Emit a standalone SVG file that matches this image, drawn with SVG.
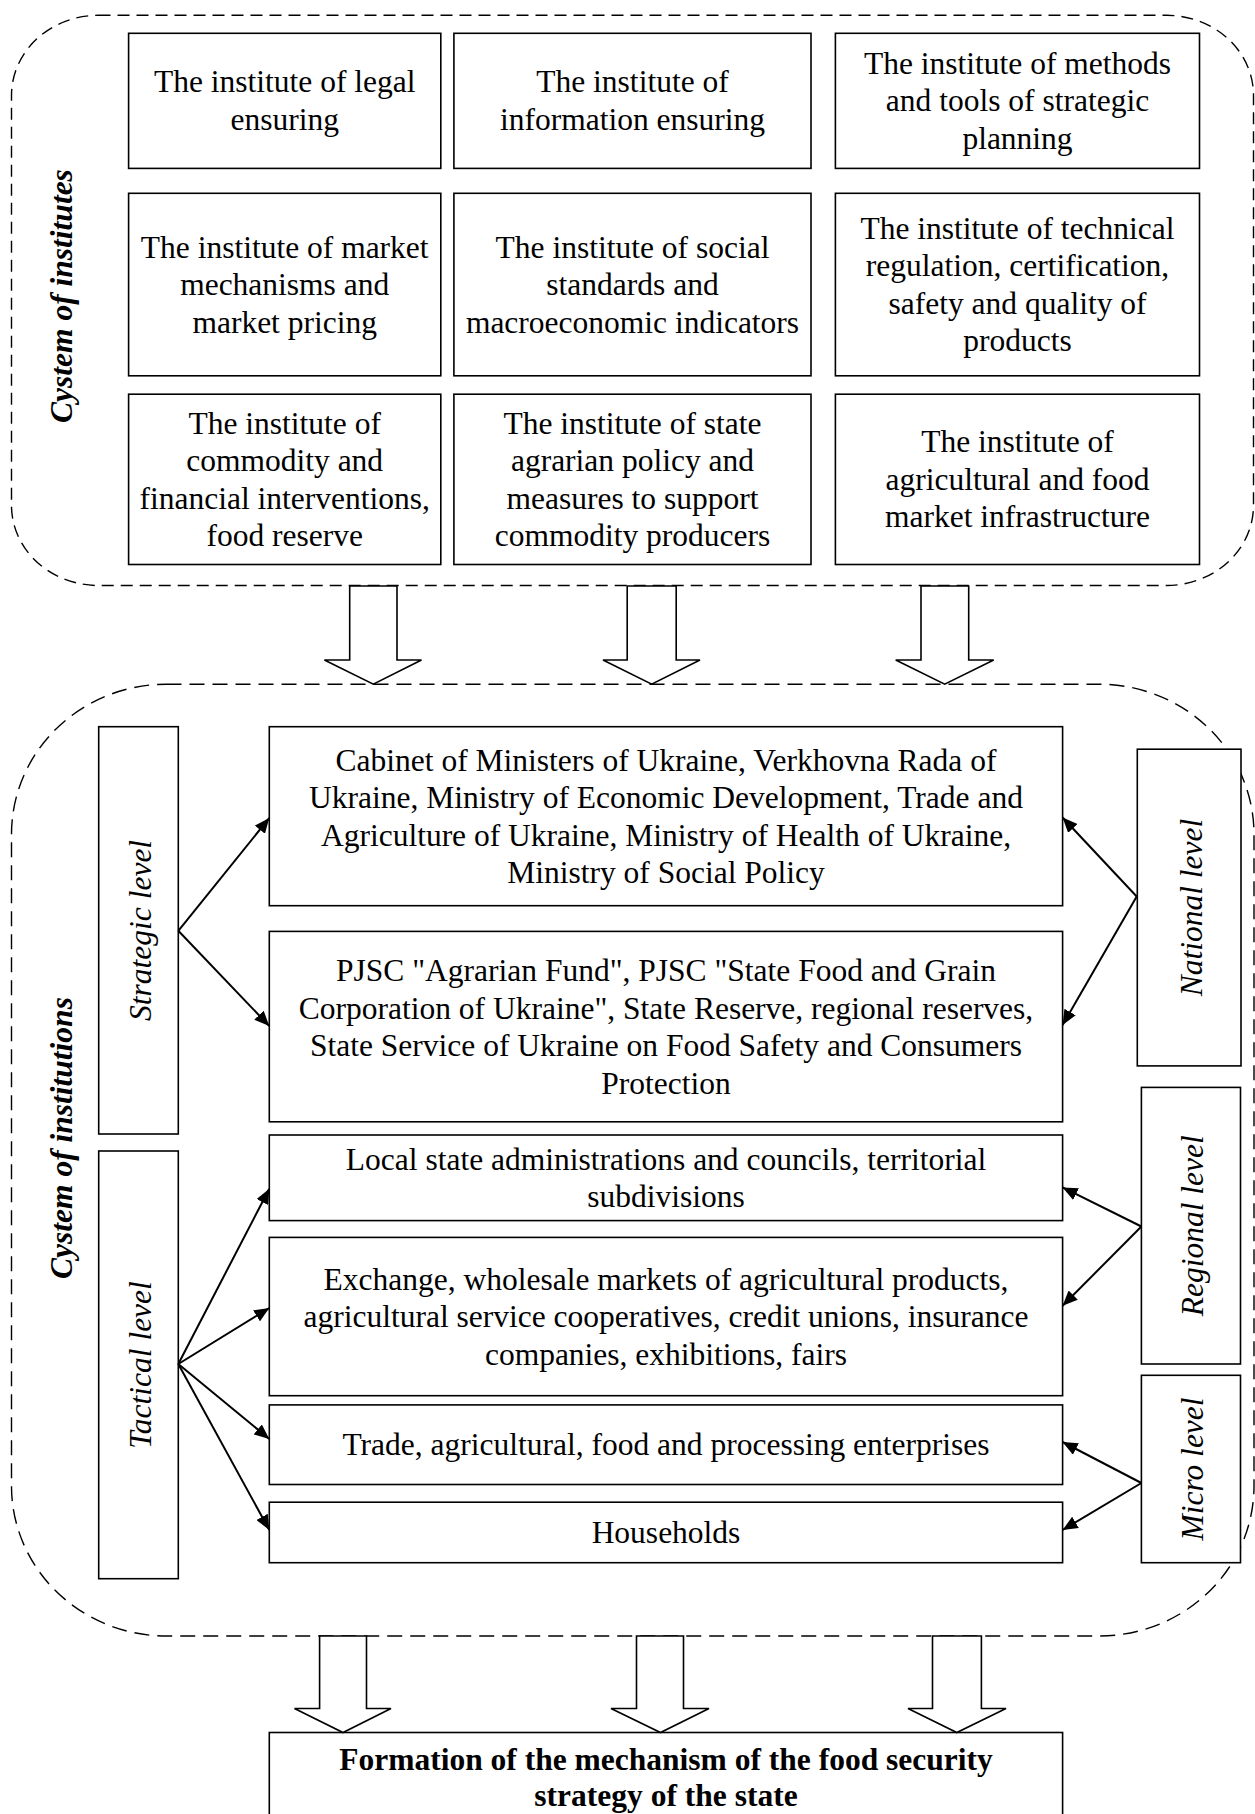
<svg xmlns="http://www.w3.org/2000/svg" width="1255" height="1814" viewBox="0 0 1255 1814">
  <style>
    .box { fill: #fff; stroke: #000; stroke-width: 1.6; }
    .zone { fill: none; stroke: #000; stroke-width: 1.4; stroke-dasharray: 12 7; }
    .zone2 { fill: none; stroke: #000; stroke-width: 1.4; stroke-dasharray: 15 8; }
    .big { fill: #fff; stroke: #000; stroke-width: 1.6; stroke-linejoin: miter; }
    .link { fill: none; stroke: #000; stroke-width: 2; marker-end: url(#head); }
    text { font-family: "Liberation Serif", "Times New Roman", serif; font-size: 31.5px; fill: #000; }
    .c { text-anchor: middle; }
    .lvl { font-style: italic; text-anchor: middle; }
    .sys { font-style: italic; font-weight: bold; text-anchor: middle; }
    .bold { font-weight: bold; text-anchor: middle; }
  </style>
  <defs>
    <marker id="head" markerUnits="userSpaceOnUse" markerWidth="16" markerHeight="13" refX="15" refY="6.5" orient="auto">
      <path d="M0,0 L15,6.5 L0,13 z" fill="#000"/>
    </marker>
  </defs>
  <rect width="1255" height="1814" fill="#fff"/>

  <!-- dashed group outlines -->
  <g id="zone-institutes">
    <rect class="zone" x="11.5" y="15.3" width="1242" height="570.2" rx="87" ry="80"/>
    <text class="sys" transform="translate(72,296) rotate(-90)">Cystem of institutes</text>
  </g>
  <g id="zone-institutions">
    <rect class="zone2" x="11.5" y="684.2" width="1242.5" height="951.8" rx="155" ry="150"/>
    <text class="sys" transform="translate(72,1138) rotate(-90)">Cystem of institutions</text>
  </g>

  <!-- institutes grid -->
  <g id="inst-legal">
    <rect class="box" x="128.6" y="33.3" width="312.2" height="135.1"/>
    <text class="c"><tspan x="284.7" y="92.2">The institute of legal</tspan><tspan x="284.7" y="129.7">ensuring</tspan></text>
  </g>
  <g id="inst-information">
    <rect class="box" x="453.9" y="33.3" width="357.1" height="135.1"/>
    <text class="c"><tspan x="632.5" y="92.2">The institute of</tspan><tspan x="632.5" y="129.7">information ensuring</tspan></text>
  </g>
  <g id="inst-planning">
    <rect class="box" x="835.4" y="33.3" width="364.1" height="135.1"/>
    <text class="c"><tspan x="1017.5" y="73.9">The institute of methods</tspan><tspan x="1017.5" y="111.4">and tools of strategic</tspan><tspan x="1017.5" y="148.9">planning</tspan></text>
  </g>
  <g id="inst-market">
    <rect class="box" x="128.6" y="193.3" width="312.2" height="182.5"/>
    <text class="c"><tspan x="284.7" y="257.5">The institute of market</tspan><tspan x="284.7" y="295">mechanisms and</tspan><tspan x="284.7" y="332.5">market pricing</tspan></text>
  </g>
  <g id="inst-social">
    <rect class="box" x="453.9" y="193.3" width="357.1" height="182.5"/>
    <text class="c"><tspan x="632.5" y="257.5">The institute of social</tspan><tspan x="632.5" y="295">standards and</tspan><tspan x="632.5" y="332.5">macroeconomic indicators</tspan></text>
  </g>
  <g id="inst-technical">
    <rect class="box" x="835.4" y="193.3" width="364.1" height="182.5"/>
    <text class="c"><tspan x="1017.5" y="238.8">The institute of technical</tspan><tspan x="1017.5" y="276.3">regulation, certification,</tspan><tspan x="1017.5" y="313.8">safety and quality of</tspan><tspan x="1017.5" y="351.3">products</tspan></text>
  </g>
  <g id="inst-interventions">
    <rect class="box" x="128.6" y="394.2" width="312.2" height="170.3"/>
    <text class="c"><tspan x="284.7" y="433.6">The institute of</tspan><tspan x="284.7" y="471.1">commodity and</tspan><tspan x="284.7" y="508.6">financial interventions,</tspan><tspan x="284.7" y="546.1">food reserve</tspan></text>
  </g>
  <g id="inst-agrarian">
    <rect class="box" x="453.9" y="394.2" width="357.1" height="170.3"/>
    <text class="c"><tspan x="632.5" y="433.6">The institute of state</tspan><tspan x="632.5" y="471.1">agrarian policy and</tspan><tspan x="632.5" y="508.6">measures to support</tspan><tspan x="632.5" y="546.1">commodity producers</tspan></text>
  </g>
  <g id="inst-infrastructure">
    <rect class="box" x="835.4" y="394.2" width="364.1" height="170.3"/>
    <text class="c"><tspan x="1017.5" y="452.4">The institute of</tspan><tspan x="1017.5" y="489.9">agricultural and food</tspan><tspan x="1017.5" y="527.4">market infrastructure</tspan></text>
  </g>

  <!-- level labels -->
  <g id="lvl-strategic">
    <rect class="box" x="98.7" y="726.7" width="79.6" height="407.3"/>
    <text class="lvl" transform="translate(151,930.4) rotate(-90)">Strategic level</text>
  </g>
  <g id="lvl-tactical">
    <rect class="box" x="98.7" y="1151" width="79.6" height="427.7"/>
    <text class="lvl" transform="translate(151,1365) rotate(-90)">Tactical level</text>
  </g>
  <g id="lvl-national">
    <rect class="box" x="1137.3" y="749.2" width="103.7" height="316.7"/>
    <text class="lvl" transform="translate(1201.5,907.5) rotate(-90)">National level</text>
  </g>
  <g id="lvl-regional">
    <rect class="box" x="1141.4" y="1087.4" width="99.1" height="276.6"/>
    <text class="lvl" transform="translate(1203,1225.7) rotate(-90)">Regional level</text>
  </g>
  <g id="lvl-micro">
    <rect class="box" x="1141.4" y="1375.3" width="99.1" height="187.4"/>
    <text class="lvl" transform="translate(1203,1469) rotate(-90)">Micro level</text>
  </g>

  <!-- institutions -->
  <g id="org-cabinet">
    <rect class="box" x="269.3" y="726.7" width="793.3" height="179"/>
    <text class="c"><tspan x="666" y="770.5">Cabinet of Ministers of Ukraine, Verkhovna Rada of</tspan><tspan x="666" y="808">Ukraine, Ministry of Economic Development, Trade and</tspan><tspan x="666" y="845.5">Agriculture of Ukraine, Ministry of Health of Ukraine,</tspan><tspan x="666" y="883">Ministry of Social Policy</tspan></text>
  </g>
  <g id="org-funds">
    <rect class="box" x="269.3" y="931.4" width="793.3" height="190.4"/>
    <text class="c"><tspan x="666" y="981">PJSC "Agrarian Fund", PJSC "State Food and Grain</tspan><tspan x="666" y="1018.5">Corporation of Ukraine", State Reserve, regional reserves,</tspan><tspan x="666" y="1056">State Service of Ukraine on Food Safety and Consumers</tspan><tspan x="666" y="1093.5">Protection</tspan></text>
  </g>
  <g id="org-local">
    <rect class="box" x="269.3" y="1135" width="793.3" height="85.6"/>
    <text class="c"><tspan x="666" y="1169.5">Local state administrations and councils, territorial</tspan><tspan x="666" y="1207">subdivisions</tspan></text>
  </g>
  <g id="org-markets">
    <rect class="box" x="269.3" y="1237.4" width="793.3" height="158.3"/>
    <text class="c"><tspan x="666" y="1289.5">Exchange, wholesale markets of agricultural products,</tspan><tspan x="666" y="1327">agricultural service cooperatives, credit unions, insurance</tspan><tspan x="666" y="1364.5">companies, exhibitions, fairs</tspan></text>
  </g>
  <g id="org-enterprises">
    <rect class="box" x="269.3" y="1404.9" width="793.3" height="79.6"/>
    <text class="c" x="666" y="1455.2">Trade, agricultural, food and processing enterprises</text>
  </g>
  <g id="org-households">
    <rect class="box" x="269.3" y="1502.2" width="793.3" height="60.5"/>
    <text class="c" x="666" y="1543">Households</text>
  </g>

  <g id="result">
    <rect class="box" x="269.3" y="1732.5" width="793.3" height="90"/>
    <text class="bold"><tspan x="666" y="1770">Formation of the mechanism of the food security</tspan><tspan x="666" y="1806">strategy of the state</tspan></text>
  </g>

  <!-- connectors -->
  <g id="connectors">
    <!-- hollow block arrows between the two systems -->
    <path class="big" d="M349.7,586 H397 V660 H421.5 L373.3,684.2 L324.4,660 H349.7 Z"/>
    <path class="big" d="M627.2,586 H676.2 V660 H700 L651.7,684.2 L603,660 H627.2 Z"/>
    <path class="big" d="M921,586 H968.7 V660 H993.7 L944.7,684.2 L895.7,660 H921 Z"/>
    <!-- hollow block arrows into the result -->
    <path class="big" d="M319.6,1636 H366.5 V1708.5 H391 L343,1732.5 L294.5,1708.5 H319.6 Z"/>
    <path class="big" d="M636.5,1636 H683.5 V1708.5 H709 L660.5,1732.5 L611,1708.5 H636.5 Z"/>
    <path class="big" d="M932.5,1636 H981.4 V1708.5 H1006 L956.8,1732.5 L908,1708.5 H932.5 Z"/>

    <!-- strategic level -->
    <path class="link" d="M178.3,930.8 L269.3,818"/>
    <path class="link" d="M178.3,930.8 L269.3,1026"/>
    <!-- national level -->
    <path class="link" d="M1136.7,896.5 L1062.6,817.5"/>
    <path class="link" d="M1136.7,896.5 L1062.6,1025"/>
    <!-- tactical level -->
    <path class="link" d="M178.3,1364 L269.3,1188.7"/>
    <path class="link" d="M178.3,1364 L269.3,1308"/>
    <path class="link" d="M178.3,1364 L269.3,1439"/>
    <path class="link" d="M178.3,1364 L269.3,1530"/>
    <!-- regional level -->
    <path class="link" d="M1141.4,1226.5 L1062.6,1187.4"/>
    <path class="link" d="M1141.4,1226.5 L1062.6,1305.7"/>
    <!-- micro level -->
    <path class="link" d="M1141.4,1483 L1062.6,1442"/>
    <path class="link" d="M1141.4,1483 L1062.6,1530"/>
  </g>
</svg>
